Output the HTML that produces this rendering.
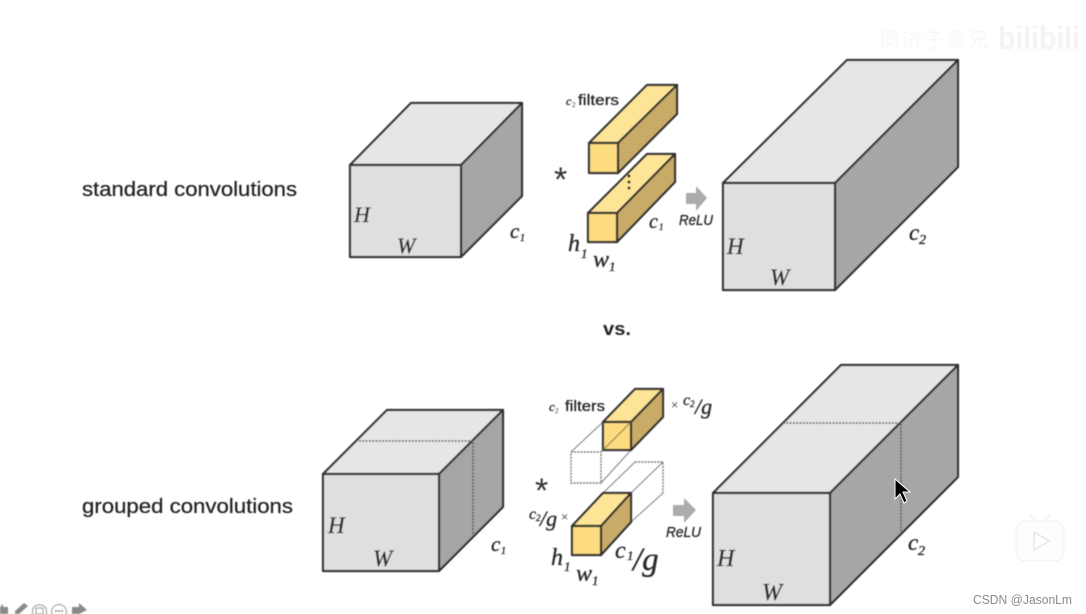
<!DOCTYPE html>
<html><head><meta charset="utf-8"><style>
html,body{margin:0;padding:0;background:#fff;width:1086px;height:614px;overflow:hidden}
svg{display:block}
text{font-family:"Liberation Serif",serif;fill:#2a2a2a}
text[font-style=italic]{stroke:#2a2a2a;stroke-width:.35}
.s{font-family:"Liberation Sans",sans-serif}
.k{stroke:#303030;stroke-width:2.2;stroke-linejoin:round}
.f{fill:#e0dfe0}.t{fill:#e6e6e6}.d{fill:#a6a6a6}
.yf{fill:#fddc80}.yt{fill:#fde496}.yd{fill:#c9ab68}
.dash{stroke:#5c5c5c;stroke-width:1.6;stroke-dasharray:2 1.3;fill:none}
.g{stroke:#808080;stroke-width:1;fill:none}
.gd{stroke:#777;stroke-width:1.4;stroke-dasharray:2 1.2;fill:none}
.l{fill:#222;stroke:#222;stroke-width:.25}
</style></head><body>
<svg width="1086" height="614" viewBox="0 0 1086 614" xmlns="http://www.w3.org/2000/svg">
<defs><filter id="b" x="-2%" y="-2%" width="104%" height="104%"><feGaussianBlur stdDeviation="0.45"/></filter></defs>
<g filter="url(#b)">
<!-- watermark -->
<text x="880" y="47" class="s" font-size="20" style="fill:#f6f6f6;font-family:'Liberation Sans','Noto Sans CJK SC',sans-serif" textLength="108">同济子豪兄</text>
<text x="998" y="49" class="s" font-size="32" font-weight="bold" style="fill:#f3f3f3" textLength="82" lengthAdjust="spacingAndGlyphs">bilibili</text>

<!-- box 1 -->
<polygon class="k t" points="350,165 411,103 522,103 461,165"/>
<polygon class="k d" points="461,165 522,103 522,196 461,257"/>
<rect class="k f" x="350" y="165" width="111" height="92"/>
<text x="354" y="222" font-size="22" font-style="italic">H</text>
<text x="397" y="253" font-size="22" font-style="italic">W</text>
<text x="510" y="238" font-size="21" font-style="italic">c</text><text x="520" y="241" font-size="10" font-style="italic">1</text>

<!-- filters top -->
<polygon class="k yt" points="589,143 647,85 677,85 618,143"/>
<polygon class="k yd" points="618,143 677,85 677,114 618,173"/>
<rect class="k yf" x="589" y="143" width="29" height="30"/>
<polygon class="k yt" points="588,213 647,154 675,154 617,213"/>
<polygon class="k yd" points="617,213 675,154 675,182 617,242"/>
<rect class="k yf" x="588" y="213" width="29" height="29"/>
<circle cx="629" cy="176" r="1.5" fill="#222"/><circle cx="629" cy="182" r="1.5" fill="#222"/><circle cx="629" cy="188" r="1.5" fill="#222"/>
<text x="566" y="105" font-size="12" font-style="italic">c</text><text x="572" y="107" font-size="7">2</text>
<text x="578" y="105" class="s l" font-size="14.5" textLength="41" lengthAdjust="spacingAndGlyphs">filters</text>
<text x="554" y="191" class="s" font-size="34" style="fill:#333">*</text>
<text x="649" y="228" font-size="20" font-style="italic">c</text><text x="659" y="230" font-size="9" font-style="italic">1</text>
<text x="568" y="251" font-size="24" font-style="italic">h</text><text x="581" y="258" font-size="13" font-style="italic">1</text>
<text x="593" y="267" font-size="24" font-style="italic">w</text><text x="609" y="271" font-size="13" font-style="italic">1</text>
<polygon points="686,193 696,193 696,186 707,198 696,211 696,204 686,204" fill="#acacac"/>
<text x="679" y="225" class="s" font-size="14.5" font-style="italic" textLength="34" lengthAdjust="spacingAndGlyphs">ReLU</text>

<!-- box 2 -->
<polygon class="k t" points="723,183 847,60 958,60 835,183"/>
<polygon class="k d" points="835,183 958,60 958,167 835,290"/>
<rect class="k f" x="723" y="183" width="112" height="107"/>
<text x="727" y="254" font-size="23" font-style="italic">H</text>
<text x="770" y="285" font-size="23" font-style="italic">W</text>
<text x="909" y="240" font-size="23" font-style="italic">c</text><text x="919" y="244" font-size="14" font-style="italic">2</text>

<text x="82" y="196" class="s l" font-size="20.5" textLength="215" lengthAdjust="spacingAndGlyphs">standard convolutions</text>
<text x="603" y="335" class="s" font-size="18.5" font-weight="bold" textLength="28" lengthAdjust="spacingAndGlyphs" style="fill:#222">vs.</text>
<text x="82" y="513" class="s l" font-size="20.5" textLength="211" lengthAdjust="spacingAndGlyphs">grouped convolutions</text>

<!-- box 3 -->
<polygon class="k t" points="323,474 387,410 503,410 439,474"/>
<polygon class="k d" points="439,474 503,410 503,507 439,571"/>
<rect class="k f" x="323" y="474" width="116" height="97"/>
<path class="dash" d="M359,441H473V535"/>
<text x="328" y="533" font-size="23" font-style="italic">H</text>
<text x="373" y="566" font-size="23" font-style="italic">W</text>
<text x="491" y="551" font-size="21" font-style="italic">c</text><text x="501" y="554" font-size="10" font-style="italic">1</text>

<!-- filters bottom: ghost -->
<path class="g" d="M571,452L603,422M601,452L631,422M601,483L631,450"/>
<path class="gd" d="M571,452H601V483H571ZM571,452"/>
<path class="g" d="M603,493L635,462M631,493L663,462M631,522L663,493"/>
<path class="gd" d="M635,462H663V493"/>
<polygon class="k yt" points="603,422 635,389 663,389 631,422"/>
<polygon class="k yd" points="631,422 663,389 663,417 631,450"/>
<rect class="k yf" x="603" y="422" width="28" height="28"/>
<line x1="603" y1="450" x2="631" y2="422" stroke="#7a6c48" stroke-width="1"/>
<polygon class="k yt" points="572,526 603,493 631,493 601,526"/>
<polygon class="k yd" points="601,526 631,493 631,522 601,555"/>
<rect class="k yf" x="572" y="526" width="29" height="29"/>
<text x="549" y="411" font-size="13" font-style="italic">c</text><text x="555" y="413" font-size="7">2</text>
<text x="565" y="411" class="s l" font-size="14.5" textLength="40" lengthAdjust="spacingAndGlyphs">filters</text>
<text x="671" y="409" font-size="13">×</text>
<text x="683" y="405" font-size="16" font-style="italic">c</text><text x="690" y="407" font-size="9" font-style="italic">2</text>
<text x="695" y="414" font-size="22" font-style="italic">/g</text>
<text x="535" y="502" class="s" font-size="34" style="fill:#333">*</text>
<text x="529" y="519" font-size="16" font-style="italic">c</text><text x="536" y="521" font-size="9" font-style="italic">2</text>
<text x="540" y="526" font-size="22" font-style="italic">/g</text>
<text x="561" y="521" font-size="13">×</text>
<text x="551" y="565" font-size="24" font-style="italic">h</text><text x="564" y="571" font-size="13" font-style="italic">1</text>
<text x="576" y="581" font-size="24" font-style="italic">w</text><text x="592" y="585" font-size="13" font-style="italic">1</text>
<text x="615" y="558" font-size="24" font-style="italic">c</text><text x="627" y="560" font-size="13" font-style="italic">1</text>
<text x="633" y="570" font-size="33" font-style="italic">/g</text>
<polygon points="673,505 684,505 684,498 696,510 684,523 684,516 673,516" fill="#acacac"/>
<text x="666" y="537" class="s" font-size="14.5" font-style="italic" textLength="35" lengthAdjust="spacingAndGlyphs">ReLU</text>

<!-- box 4 -->
<polygon class="k t" points="713,493 841,365 958,365 830,493"/>
<polygon class="k d" points="830,493 958,365 958,477 830,605"/>
<rect class="k f" x="713" y="493" width="117" height="112"/>
<path class="dash" d="M783,423H901V531"/>
<text x="717" y="566" font-size="24" font-style="italic">H</text>
<text x="762" y="600" font-size="24" font-style="italic">W</text>
<text x="908" y="550" font-size="23" font-style="italic">c</text><text x="918" y="555" font-size="14" font-style="italic">2</text>
</g>

<!-- cursor -->
<polygon points="895,479 895,499 900,494 904,503 907,501 903,492 910,492" fill="#000" stroke="#fff" stroke-width="1"/>

<!-- play icon -->
<rect x="1016" y="521" width="48" height="40" rx="9" fill="#fdfdfd" stroke="#f1f1f1"/>
<path d="M1030,515L1036,521M1050,515L1044,521" stroke="#f4f4f4" stroke-width="3"/>
<polygon points="1034,532 1034,550 1049,541" fill="#fff" stroke="#e6e6e6" stroke-width="1.5"/>
<text x="973" y="604" class="s" font-size="12.5" textLength="99" lengthAdjust="spacingAndGlyphs" style="fill:#8a8a8a">CSDN @JasonLm</text>

<!-- toolbar -->
<g fill="#8a8a8a" filter="url(#b)">
<polygon points="0,607 3,604 3,607 8,607 8,614 0,614"/>
<polygon points="15,611 24,603 28,606 19,614 15,614"/>
<rect x="32.5" y="605" width="14" height="14" rx="6" fill="none" stroke="#999"/>
<rect x="36" y="608" width="7" height="6" fill="none" stroke="#999"/>
<circle cx="59" cy="612" r="7.5" fill="none" stroke="#999"/>
<circle cx="56" cy="611" r="1"/><circle cx="59" cy="611" r="1"/><circle cx="62" cy="611" r="1"/>
<polygon points="72,607 79,607 79,603 87,610 79,614 72,614"/>
</g>
</svg>
</body></html>
